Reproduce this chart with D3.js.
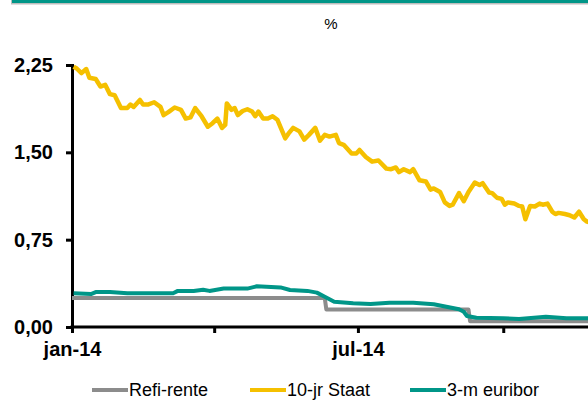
<!DOCTYPE html>
<html>
<head>
<meta charset="utf-8">
<script src="https://cdn.jsdelivr.net/npm/d3@7"></script>
<style>
  body { margin: 0; background: #fff; overflow: hidden; }
  svg { display: block; font-family: "Liberation Sans", Arial, sans-serif; }
</style>
</head>
<body>
<svg id="chart"></svg>
<script>
// Refi-rente (ECB)
var refiDatum = ["2014-01-01","2014-06-10","2014-06-11","2014-09-09","2014-09-10","2014-11-28"];
var refiRente = [0.25, 0.25, 0.15, 0.15, 0.05, 0.05];

// 10-jr Staat
var staatDatum = ["2014-01-02","2014-01-04","2014-01-07","2014-01-10","2014-01-12","2014-01-16","2014-01-19","2014-01-22","2014-01-25","2014-01-28",
  "2014-02-01","2014-02-05","2014-02-07","2014-02-09","2014-02-13","2014-02-15","2014-02-18","2014-02-22","2014-02-26","2014-02-28",
  "2014-03-03","2014-03-07","2014-03-11","2014-03-14","2014-03-17","2014-03-20","2014-03-24","2014-03-28","2014-03-31",
  "2014-04-03","2014-04-06","2014-04-08","2014-04-09","2014-04-12","2014-04-14","2014-04-16","2014-04-19","2014-04-22","2014-04-25","2014-04-27","2014-04-29",
  "2014-05-02","2014-05-05","2014-05-08","2014-05-11","2014-05-16","2014-05-18","2014-05-21","2014-05-25","2014-05-28","2014-05-31",
  "2014-06-04","2014-06-07","2014-06-10","2014-06-13","2014-06-17","2014-06-19","2014-06-22","2014-06-27","2014-06-30",
  "2014-07-02","2014-07-06","2014-07-10","2014-07-14","2014-07-19","2014-07-22","2014-07-25","2014-07-27","2014-07-30",
  "2014-08-03","2014-08-05","2014-08-09","2014-08-13","2014-08-16","2014-08-18","2014-08-22","2014-08-25","2014-08-28","2014-08-30",
  "2014-09-03","2014-09-06","2014-09-09","2014-09-13","2014-09-16","2014-09-18","2014-09-22","2014-09-24","2014-09-27","2014-09-30",
  "2014-10-02","2014-10-04","2014-10-08","2014-10-11","2014-10-13","2014-10-15","2014-10-18","2014-10-21","2014-10-24","2014-10-26","2014-10-29",
  "2014-11-01","2014-11-03","2014-11-05","2014-11-09","2014-11-12","2014-11-15","2014-11-18","2014-11-21","2014-11-23","2014-11-28"];
var staat = [2.235, 2.22, 2.18, 2.215, 2.14, 2.13, 2.065, 2.08, 2.00, 1.99,
  1.88, 1.88, 1.91, 1.89, 1.95, 1.91, 1.91, 1.93, 1.89, 1.82,
  1.845, 1.885, 1.865, 1.79, 1.80, 1.88, 1.81, 1.72, 1.75,
  1.79, 1.71, 1.735, 1.92, 1.865, 1.88, 1.82, 1.855, 1.87, 1.85, 1.81, 1.85,
  1.79, 1.79, 1.81, 1.78, 1.62, 1.66, 1.71, 1.68, 1.61, 1.65,
  1.71, 1.60, 1.65, 1.635, 1.65, 1.58, 1.565, 1.49, 1.49,
  1.52, 1.46, 1.42, 1.43, 1.36, 1.355, 1.37, 1.33, 1.355,
  1.33, 1.355, 1.26, 1.25, 1.18, 1.19, 1.16, 1.07, 1.04, 1.05,
  1.15, 1.08, 1.16, 1.24, 1.22, 1.235, 1.155, 1.15, 1.11, 1.10,
  1.05, 1.07, 1.06, 1.04, 1.035, 0.925, 1.04, 1.035, 1.06, 1.05, 1.06,
  0.99, 0.97, 0.98, 0.97, 0.96, 0.94, 0.99, 0.925, 0.905, 0.89];

// 3-m euribor
var euriborDatum = ["2014-01-02","2014-01-13","2014-01-16","2014-01-25","2014-02-05","2014-02-15","2014-03-06","2014-03-09","2014-03-19","2014-03-25","2014-03-29",
  "2014-04-07","2014-04-22","2014-04-28","2014-05-04","2014-05-13","2014-05-19","2014-05-30","2014-06-05","2014-06-10","2014-06-13","2014-06-16","2014-06-28",
  "2014-07-09","2014-07-21","2014-08-05","2014-08-18","2014-08-26","2014-09-03","2014-09-06","2014-09-08","2014-09-14",
  "2014-10-01","2014-10-11","2014-10-28","2014-11-10","2014-11-28"];
var euribor = [0.29, 0.283, 0.30, 0.30, 0.29, 0.29, 0.29, 0.31, 0.31, 0.32, 0.31,
  0.33, 0.33, 0.35, 0.345, 0.34, 0.318, 0.31, 0.295, 0.26, 0.238, 0.217, 0.204,
  0.198, 0.209, 0.209, 0.195, 0.174, 0.152, 0.131, 0.094, 0.08,
  0.075, 0.069, 0.088, 0.075, 0.075];

var yTicks = [0, 0.75, 1.5, 2.25];
var maanden = ["jan","feb","mrt","apr","mei","jun","jul","aug","sep","okt","nov","dec"];
var legendaNamen = ["Refi-rente", "10-jr Staat", "3-m euribor"];
var kleuren = ["#8c8c8c", "#f5c000", "#009688"];
var dikte = [4, 4.5, 4];

var width = 660, height = 401;
var margin = {top: 65, right: 10, bottom: 74, left: 72};

var svg = d3.select("#chart").attr("width", width).attr("height", height);
var parse = d3.timeParse("%Y-%m-%d");

// bovenrand
svg.append("rect").attr("x", 11).attr("y", -1).attr("width", width).attr("height", 5.5).attr("fill", "#bdbdbd");
svg.append("rect").attr("x", 12).attr("y", -1).attr("width", width).attr("height", 4).attr("fill", "#009688");

// einde net voor jan-15, anders valt dat label half buiten beeld
var x = d3.scaleTime()
  .domain([parse("2014-01-01"), parse("2014-12-31")])
  .range([margin.left, 647]);
var y = d3.scaleLinear()
  .domain([0, 2.25])
  .range([height - margin.bottom, margin.top]);

svg.append("text")
  .attr("x", 331).attr("y", 29)
  .attr("text-anchor", "middle")
  .attr("font-size", 15)
  .text("%");

var komma = d3.formatLocale({decimal: ",", thousands: ".", grouping: [3], currency: ["€", ""]}).format(".2f");

var yAxis = svg.append("g")
  .attr("transform", "translate(" + margin.left + ",0)")
  .call(d3.axisLeft(y).tickValues(yTicks).tickSize(6).tickPadding(13).tickFormat(komma));

var xAxis = svg.append("g")
  .attr("transform", "translate(0," + y(0) + ")")
  .call(d3.axisBottom(x).ticks(d3.timeMonth.every(3)).tickSize(6).tickPadding(9)
    .tickFormat(function(d) {
      return d.getMonth() % 6 == 0 ? maanden[d.getMonth()] + "-" + d3.timeFormat("%y")(d) : "";
    }));

[yAxis, xAxis].forEach(function(ax) {
  ax.selectAll("path").attr("stroke", "#000").attr("stroke-width", 3);
  ax.selectAll("line").attr("stroke", "#000").attr("stroke-width", 3);
  ax.selectAll("text").attr("font-size", 20).attr("font-weight", "bold").attr("fill", "#000")
    .attr("font-family", "'Liberation Sans', Arial, sans-serif");
});
xAxis.select("path").attr("d", "M" + (margin.left - 1.5) + ",0H" + width);

var reeksen = [
  refiDatum.map(function(d, i) { return {d: parse(d), v: refiRente[i]}; }),
  staatDatum.map(function(d, i) { return {d: parse(d), v: staat[i]}; }),
  euriborDatum.map(function(d, i) { return {d: parse(d), v: euribor[i]}; })
];

var line = d3.line()
  .x(function(p) { return x(p.d); })
  .y(function(p) { return y(p.v); });

svg.append("g").selectAll("path")
  .data(reeksen)
  .enter().append("path")
    .attr("d", line)
    .attr("fill", "none")
    .attr("stroke", function(d, i) { return kleuren[i]; })
    .attr("stroke-width", function(d, i) { return dikte[i]; })
    .attr("stroke-linejoin", "round");

// legenda
var legX = [92, 250, 410];
var leg = svg.append("g").selectAll("g")
  .data(legendaNamen)
  .enter().append("g")
    .attr("transform", function(d, i) { return "translate(" + legX[i] + ",390)"; });
leg.append("line")
  .attr("x1", 0).attr("x2", 36)
  .attr("stroke", function(d, i) { return kleuren[i]; })
  .attr("stroke-width", 4);
leg.append("text")
  .attr("x", 37).attr("dy", "0.35em")
  .attr("font-size", 18)
  .text(function(d) { return d; });
</script>
</body>
</html>
